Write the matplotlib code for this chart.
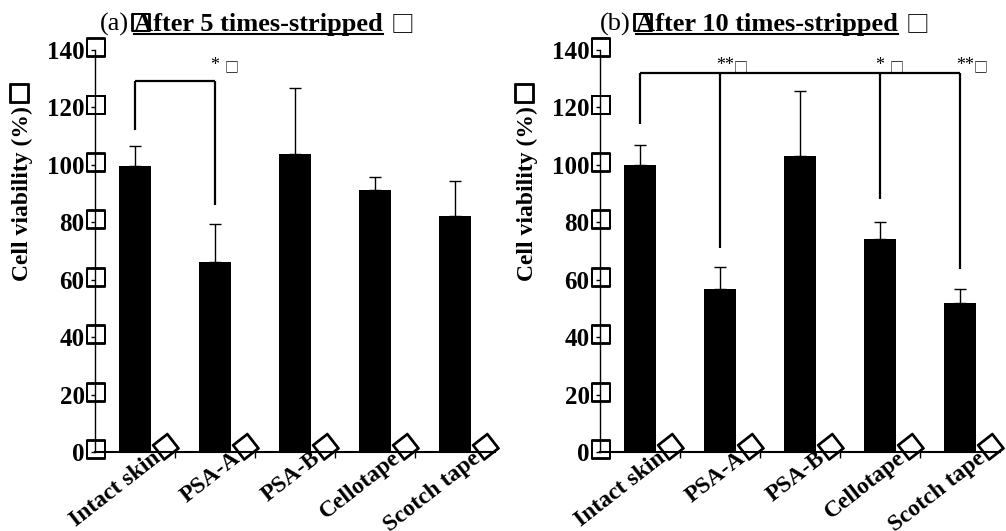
import matplotlib
matplotlib.use('Agg')
import matplotlib.pyplot as plt
import matplotlib.patheffects as pe
from matplotlib.transforms import ScaledTranslation
from matplotlib.lines import Line2D

plt.rcParams['font.family'] = ['Liberation Serif', 'DejaVu Sans']

# データ
categories = ['Intact skin', 'PSA-A', 'PSA-B', 'Cellotape', 'Scotch tape']
viability_5 = [99.5, 66.2, 103.8, 91.3, 82.2]
error_5 = [7.2, 13.3, 23.1, 4.3, 12.3]
viability_10 = [99.9, 56.7, 103.0, 74.1, 51.8]
error_10 = [7.1, 7.9, 22.8, 6.1, 5.1]
y_ticks = [0, 20, 40, 60, 80, 100, 120, 140]

# 有意差の表示 (比較バー, 記号)
sig_5 = [(1, '* ')]
sig_10 = [(1, '**'), (3, '* '), (4, '**')]
# 線の高さ
bracket_top_5 = 129.2
legs_5 = {0: 112, 1: 86}
bracket_top_10 = 131.9
legs_10 = {0: 114.2, 1: 71, 3: 88, 4: 63.7}

BOX = '\u25a1'  # 文字化けした記号
BOX_FONT = 'Noto Sans CJK JP'
BOLD_BOX = [pe.withStroke(linewidth=1.3, foreground='black')]

fig = plt.figure(figsize=(10.06, 5.31), dpi=100)
W, H = 1006, 531


def px(dx, dy):
    return ScaledTranslation(dx / 100, dy / 100, fig.dpi_scale_trans)


def setup_axes(left_px, values, errors):
    ax = fig.add_axes([left_px / W, 79 / H, 400 / W, 402 / H])
    x = list(range(len(categories)))
    ax.bar(x, values, width=0.41, color='black', zorder=2)
    ax.errorbar(x, values, yerr=[[0] * len(errors), errors], fmt='none',
                ecolor='black', elinewidth=1, capsize=4, capthick=1, zorder=1)
    ax.set_xlim(-0.5, 4.5)
    ax.set_ylim(0, 140)
    ax.spines['top'].set_visible(False)
    ax.spines['right'].set_visible(False)
    ax.spines['left'].set_linewidth(1.0)
    ax.spines['bottom'].set_linewidth(1.5)
    ax.set_yticks(y_ticks)
    ax.set_yticklabels([str(v) for v in y_ticks], fontsize=18, fontweight='bold')
    ax.tick_params(axis='y', direction='out', length=3, width=1, pad=4.5)
    for v in y_ticks:
        ax.text(0, v, BOX, transform=ax.get_yaxis_transform() + px(1, 0),
                ha='center', va='center', fontsize=17, family=BOX_FONT,
                path_effects=BOLD_BOX, clip_on=False)
    ax.set_xticks(x)
    ax.set_xticklabels(categories, fontsize=17, fontweight='bold',
                       rotation=38, ha='right', va='center', rotation_mode='anchor')
    ax.tick_params(axis='x', length=0, pad=0)
    ax.set_xticks([0.5, 1.5, 2.5, 3.5], minor=True)
    ax.tick_params(axis='x', which='minor', direction='out', length=4, width=1)
    off = px(23, -4)
    for lab in ax.get_xticklabels():
        lab.set_transform(lab.get_transform() + off)
    for i in x:
        ax.text(i, 0, BOX, transform=ax.get_xaxis_transform() + off,
                rotation=38, rotation_mode='anchor', ha='left', va='center',
                fontsize=17, family=BOX_FONT, path_effects=BOLD_BOX, clip_on=False)
    return ax


def draw_bracket(ax, top, legs, sigs):
    xs = sorted(legs)
    ax.plot([xs[0], xs[-1]], [top, top], color='black', lw=1.6, solid_capstyle='butt')
    for k in xs:
        ax.plot([k, k], [legs[k], top], color='black', lw=1.6, solid_capstyle='butt')
    for k, s in sigs:
        t = ax.text(k - 0.05, 133, s, ha='left', va='baseline', fontsize=13)
        ax.annotate(BOX, xy=(1, 0), xycoords=t, ha='left', va='bottom',
                    fontsize=10, family=BOX_FONT)


ax1 = setup_axes(95, viability_5, error_5)
ax2 = setup_axes(600, viability_10, error_10)
draw_bracket(ax1, bracket_top_5, legs_5, sig_5)
draw_bracket(ax2, bracket_top_10, legs_10, sig_10)

# 縦軸ラベル
ylabels = []
for xpx in (22, 527):
    t = fig.text(xpx / W, 1 - 281 / H, 'Cell viability (%)', rotation=90,
                 rotation_mode='anchor', ha='left', va='center',
                 fontsize=17, fontweight='bold')
    ylabels.append(t)

# タイトル
titles = [(100, '(a)', 'After 5 times-stripped'), (600, '(b)', 'After 10 times-stripped')]
base_y = 1 - 31 / H
fig.canvas.draw()
renderer = fig.canvas.get_renderer()
for xpx, tag, title in titles:
    t1 = fig.text(xpx / W, base_y, tag, ha='left', va='baseline', fontsize=19)
    x1 = t1.get_window_extent(renderer).x1
    fig.text((x1 + 1) / W, base_y, BOX, ha='left', va='baseline', fontsize=16,
             family=BOX_FONT, path_effects=BOLD_BOX)
    t2 = fig.text((x1 + 5) / W, base_y, title, ha='left', va='baseline',
                  fontsize=19, fontweight='bold')
    bb = t2.get_window_extent(renderer)
    fig.add_artist(Line2D([(x1 + 5) / W, bb.x1 / W], [1 - 33.5 / H, 1 - 33.5 / H],
                          color='black', lw=1.5))
    fig.text((bb.x1 + 8) / W, base_y, BOX, ha='left', va='baseline', fontsize=17,
             family=BOX_FONT)

# 縦軸ラベルの末尾の記号
for t in ylabels:
    bb = t.get_window_extent(renderer)
    cx = (bb.x0 + bb.x1) / 2
    fig.text(cx / W, (bb.y1 + 1) / H, BOX, rotation=90, ha='center', va='bottom',
             fontsize=17, family=BOX_FONT, path_effects=BOLD_BOX)

fig.savefig('out.png', dpi=100)
